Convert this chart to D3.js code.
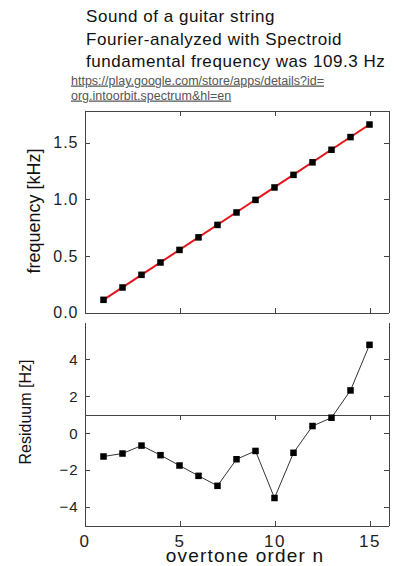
<!DOCTYPE html>
<html>
<head>
<meta charset="utf-8">
<script src="https://cdn.jsdelivr.net/npm/d3@7"></script>
<style>
  body { margin: 0; background: #fff; }
  svg { display: block; font-family: "Liberation Sans", Arial, sans-serif; }
  .axis path, .axis line { stroke: #444; shape-rendering: crispEdges; }
  .axis text { fill: #222; }
</style>
</head>
<body>
<div id="chart"></div>
<script>

// overtone order n
var orders = [1, 2, 3, 4, 5, 6, 7, 8, 9, 10, 11, 12, 13, 14, 15];
// measured frequency of each overtone, kHz
var freqKHz = [0.112, 0.221, 0.333, 0.442, 0.553, 0.664, 0.774, 0.884, 0.995, 1.105, 1.216, 1.327, 1.438, 1.550, 1.661];
// residual from the fit, Hz
var residHz = [-1.26, -1.10, -0.67, -1.19, -1.75, -2.31, -2.85, -1.41, -0.96, -3.51, -1.06, 0.39, 0.84, 2.32, 4.79];
// fitted line ends
var fitOrders = [1, 15];
var fitKHz = [0.111, 1.661];

var xTicks = [0, 5, 10, 15];
var freqTicks = [0, 0.5, 1.0, 1.5];
var residTicks = [-4, -2, 0, 2, 4];
var residLineAt = 1; // the horizontal rule across the residual panel

var titleLines = ["Sound of a guitar string", "Fourier-analyzed with Spectroid", "fundamental frequency was 109.3 Hz"];
var linkLines = ["https://play.google.com/store/apps/details?id=", "org.intoorbit.spectrum&hl=en"];

var W = 404, H = 566;
var left = 84.5, right = 388.5;

var svg = d3.select("#chart").append("svg")
    .attr("width", W)
    .attr("height", H);

var x = d3.scaleLinear().domain([0, 16]).range([left, right]);
var yTop = d3.scaleLinear().domain([0, 1.785]).range([312.5, 110.5]);
var yBot = d3.scaleLinear().domain([-5, 6]).range([525.5, 322.5]);

// title + link
svg.selectAll(".title")
    .data(titleLines).enter()
    .append("text")
    .attr("class", "title")
    .attr("x", 86)
    .attr("y", function(d, i) { return 22 + i * 22.5; })
    .attr("font-size", "17px")
    .attr("letter-spacing", "0.55px")
    .attr("fill", "#111")
    .text(function(d) { return d; });

svg.selectAll(".link")
    .data(linkLines).enter()
    .append("text")
    .attr("class", "link")
    .attr("x", 71)
    .attr("y", function(d, i) { return 84.5 + i * 15; })
    .attr("font-size", "12.5px")
    .attr("fill", "#555")
    .attr("text-decoration", "underline")
    .text(function(d) { return d; });

// ---- top panel
var tick = 5;

svg.append("g").attr("class", "axis")
    .attr("transform", "translate(" + left + ",0)")
    .call(d3.axisLeft(yTop).tickValues(freqTicks).tickFormat(d3.format(".1f"))
        .tickSizeInner(-tick).tickSizeOuter(0).tickPadding(6))
    .call(function(g) { g.selectAll("text").attr("font-size", "16px").attr("letter-spacing", "1px"); });

svg.append("g").attr("class", "axis")
    .attr("transform", "translate(" + right + ",0)")
    .call(d3.axisRight(yTop).tickValues(freqTicks).tickFormat("")
        .tickSizeInner(-tick).tickSizeOuter(0));

svg.append("g").attr("class", "axis")
    .attr("transform", "translate(0," + yTop.range()[1] + ")")
    .call(d3.axisTop(x).tickValues(xTicks).tickFormat("")
        .tickSizeInner(-tick).tickSizeOuter(0));

svg.append("g").attr("class", "axis")
    .attr("transform", "translate(0," + yTop.range()[0] + ")")
    .call(d3.axisBottom(x).tickValues(xTicks).tickFormat("")
        .tickSizeInner(-tick).tickSizeOuter(0));

svg.append("text")
    .attr("transform", "rotate(-90)")
    .attr("x", -211)
    .attr("y", 40)
    .attr("font-size", "18px")
    .attr("text-anchor", "middle")
    .attr("fill", "#111")
    .text("frequency [kHz]");

var fitLine = d3.line()
    .x(function(d) { return x(d); })
    .y(function(d, i) { return yTop(fitKHz[i]); });

svg.append("path")
    .datum(fitOrders)
    .attr("d", fitLine)
    .attr("fill", "none")
    .attr("stroke", "#e3141b")
    .attr("stroke-width", 2);

var sq = 6.5;
svg.selectAll(".fpt")
    .data(orders).enter()
    .append("rect")
    .attr("class", "fpt")
    .attr("x", function(d) { return x(d) - sq / 2; })
    .attr("y", function(d, i) { return yTop(freqKHz[i]) - sq / 2; })
    .attr("width", sq)
    .attr("height", sq)
    .attr("fill", "#000");

// ---- residual panel
svg.append("g").attr("class", "axis")
    .attr("transform", "translate(" + left + ",0)")
    .call(d3.axisLeft(yBot).tickValues(residTicks)
        .tickSizeInner(-tick).tickSizeOuter(0).tickPadding(6))
    .call(function(g) { g.selectAll("text").attr("font-size", "15px").attr("letter-spacing", "1px"); });

svg.append("g").attr("class", "axis")
    .attr("transform", "translate(" + right + ",0)")
    .call(d3.axisRight(yBot).tickValues(residTicks).tickFormat("")
        .tickSizeInner(-tick).tickSizeOuter(0));

svg.append("g").attr("class", "axis")
    .attr("transform", "translate(0," + yBot(residLineAt) + ")")
    .call(d3.axisTop(x).tickValues(xTicks).tickFormat("")
        .tickSizeInner(-tick).tickSizeOuter(0));

svg.append("g").attr("class", "axis")
    .attr("transform", "translate(0," + yBot.range()[0] + ")")
    .call(d3.axisBottom(x).tickValues(xTicks)
        .tickSizeInner(-tick).tickSizeOuter(0).tickPadding(9))
    .call(function(g) { g.selectAll("text").attr("font-size", "17px").attr("letter-spacing", "1.5px"); });

svg.append("text")
    .attr("transform", "rotate(-90)")
    .attr("x", -412)
    .attr("y", 31)
    .attr("font-size", "16px")
    .attr("text-anchor", "middle")
    .attr("fill", "#111")
    .text("Residuum [Hz]");

svg.append("text")
    .attr("x", 245)
    .attr("y", 562)
    .attr("font-size", "19px")
    .attr("letter-spacing", "1.2px")
    .attr("text-anchor", "middle")
    .attr("fill", "#111")
    .text("overtone order n");

var resLine = d3.line()
    .x(function(d) { return x(d); })
    .y(function(d, i) { return yBot(residHz[i]); });

svg.append("path")
    .datum(orders)
    .attr("d", resLine)
    .attr("fill", "none")
    .attr("stroke", "#333")
    .attr("stroke-width", 1);

svg.selectAll(".rpt")
    .data(orders).enter()
    .append("rect")
    .attr("class", "rpt")
    .attr("x", function(d) { return x(d) - sq / 2; })
    .attr("y", function(d, i) { return yBot(residHz[i]) - sq / 2; })
    .attr("width", sq)
    .attr("height", sq)
    .attr("fill", "#000");

</script>
</body>
</html>
